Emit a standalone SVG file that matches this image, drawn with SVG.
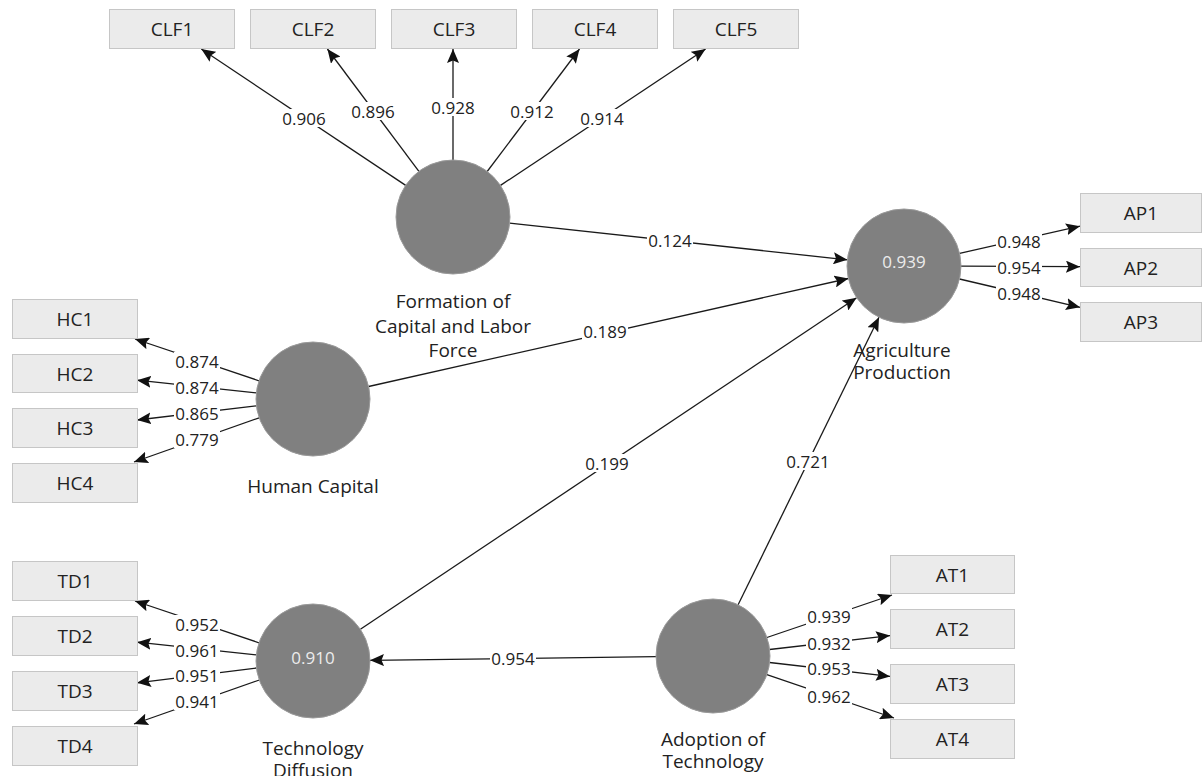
<svg xmlns="http://www.w3.org/2000/svg" width="1202" height="776" viewBox="0 0 1202 776">
<style>
.box{fill:#ebebeb;stroke:#c6c6c6;stroke-width:1}
.lv{fill:#808080;stroke:#9a9a9a;stroke-width:1}
.bt{font-family:"Open Sans","Noto Sans",sans-serif;font-size:19px;fill:#222;text-anchor:middle;dominant-baseline:central}
.lt{font-family:"Open Sans","Noto Sans",sans-serif;font-size:19px;fill:#222;text-anchor:middle}
.vt{font-family:"Open Sans","Noto Sans",sans-serif;font-size:17px;fill:#ececec;text-anchor:middle;dominant-baseline:central}
.e{stroke:#1a1a1a;stroke-width:1.3;fill:none;marker-end:url(#ah)}
.nl{font-family:"Open Sans","Noto Sans",sans-serif;font-size:17px;fill:#222;text-anchor:middle;dominant-baseline:central}
.bg{fill:#fff}
</style>
<defs>
<marker id="ah" viewBox="0 0 14 12" refX="14" refY="6" markerWidth="14" markerHeight="12" markerUnits="userSpaceOnUse" orient="auto">
<path d="M0,0 L14,6 L0,12 L2.5,6 z" fill="#111"/>
</marker>
</defs>
<rect width="1202" height="776" fill="#fff"/>

<g id="connectors">
<line class="e" x1="405.7" y1="185.4" x2="201.3" y2="49"/>
<line class="e" x1="418.9" y1="171.3" x2="327.4" y2="49"/>
<line class="e" x1="453" y1="160" x2="453" y2="49"/>
<line class="e" x1="487.2" y1="171.5" x2="579.5" y2="49"/>
<line class="e" x1="500.5" y1="185.4" x2="705.6" y2="49"/>
<line class="e" x1="259" y1="380.8" x2="135" y2="339"/>
<line class="e" x1="256.3" y1="392.9" x2="137" y2="380.2"/>
<line class="e" x1="256.4" y1="405.8" x2="137" y2="420"/>
<line class="e" x1="259.2" y1="417.8" x2="134" y2="462"/>
<line class="e" x1="259" y1="642.8" x2="135" y2="601"/>
<line class="e" x1="256.3" y1="654.9" x2="137" y2="642.2"/>
<line class="e" x1="256.4" y1="668" x2="137" y2="682.8"/>
<line class="e" x1="259.3" y1="680" x2="134" y2="724"/>
<line class="e" x1="766.9" y1="637.5" x2="892" y2="595"/>
<line class="e" x1="769.6" y1="649.5" x2="890" y2="635.6"/>
<line class="e" x1="769.6" y1="662.5" x2="890" y2="676.4"/>
<line class="e" x1="766.9" y1="674.6" x2="894" y2="718"/>
<line class="e" x1="959.6" y1="253.4" x2="1080" y2="226.2"/>
<line class="e" x1="961" y1="266.2" x2="1080" y2="266.7"/>
<line class="e" x1="959.5" y1="279" x2="1080" y2="307.3"/>
<line class="e" x1="509.6" y1="223.2" x2="847.4" y2="259.8"/>
<line class="e" x1="368.6" y1="386.5" x2="848.4" y2="278.5"/>
<line class="e" x1="360.4" y1="629.3" x2="856.6" y2="297.7"/>
<line class="e" x1="738.1" y1="604.8" x2="879" y2="317.2"/>
<line class="e" x1="656" y1="656.7" x2="370" y2="660.3"/>
</g>

<g id="edge-labels">
<rect class="bg" x="281" y="109" width="46" height="18"/><text class="nl" x="304" y="118">0.906</text>
<rect class="bg" x="350" y="102" width="46" height="18"/><text class="nl" x="373" y="111">0.896</text>
<rect class="bg" x="430" y="98" width="46" height="18"/><text class="nl" x="453" y="107">0.928</text>
<rect class="bg" x="509" y="102" width="46" height="18"/><text class="nl" x="532" y="111">0.912</text>
<rect class="bg" x="579" y="109" width="46" height="18"/><text class="nl" x="602" y="118">0.914</text>
<rect class="bg" x="174" y="352" width="46" height="18"/><text class="nl" x="197" y="361">0.874</text>
<rect class="bg" x="174" y="378" width="46" height="18"/><text class="nl" x="197" y="387">0.874</text>
<rect class="bg" x="174" y="404" width="46" height="18"/><text class="nl" x="197" y="413">0.865</text>
<rect class="bg" x="174" y="430" width="46" height="18"/><text class="nl" x="197" y="439">0.779</text>
<rect class="bg" x="174" y="615" width="46" height="18"/><text class="nl" x="197" y="624">0.952</text>
<rect class="bg" x="174" y="641" width="46" height="18"/><text class="nl" x="197" y="650">0.961</text>
<rect class="bg" x="174" y="666" width="46" height="18"/><text class="nl" x="197" y="675">0.951</text>
<rect class="bg" x="174" y="692" width="46" height="18"/><text class="nl" x="197" y="701">0.941</text>
<rect class="bg" x="806" y="607" width="46" height="18"/><text class="nl" x="829" y="616">0.939</text>
<rect class="bg" x="806" y="634" width="46" height="18"/><text class="nl" x="829" y="643">0.932</text>
<rect class="bg" x="806" y="659.5" width="46" height="18"/><text class="nl" x="829" y="668.5">0.953</text>
<rect class="bg" x="806" y="687" width="46" height="18"/><text class="nl" x="829" y="696">0.962</text>
<rect class="bg" x="996" y="232" width="46" height="18"/><text class="nl" x="1019" y="241">0.948</text>
<rect class="bg" x="996" y="258" width="46" height="18"/><text class="nl" x="1019" y="267">0.954</text>
<rect class="bg" x="996" y="284" width="46" height="18"/><text class="nl" x="1019" y="293">0.948</text>
<rect class="bg" x="647" y="231" width="46" height="18"/><text class="nl" x="670" y="240">0.124</text>
<rect class="bg" x="582" y="322" width="46" height="18"/><text class="nl" x="605" y="331">0.189</text>
<rect class="bg" x="584" y="454" width="46" height="18"/><text class="nl" x="607" y="463">0.199</text>
<rect class="bg" x="785" y="452" width="46" height="18"/><text class="nl" x="808" y="461">0.721</text>
<rect class="bg" x="490" y="649" width="46" height="18"/><text class="nl" x="513" y="658">0.954</text>
</g>

<g id="CLF1"><rect class="box" x="109.5" y="9.5" width="125" height="39"/><text class="bt" x="172" y="29">CLF1</text></g>
<g id="CLF2"><rect class="box" x="250.5" y="9.5" width="125" height="39"/><text class="bt" x="313" y="29">CLF2</text></g>
<g id="CLF3"><rect class="box" x="391.5" y="9.5" width="125" height="39"/><text class="bt" x="454" y="29">CLF3</text></g>
<g id="CLF4"><rect class="box" x="532.5" y="9.5" width="125" height="39"/><text class="bt" x="595" y="29">CLF4</text></g>
<g id="CLF5"><rect class="box" x="673.5" y="9.5" width="125" height="39"/><text class="bt" x="736" y="29">CLF5</text></g>

<g id="HC1"><rect class="box" x="12.5" y="299.5" width="125" height="39"/><text class="bt" x="75" y="319">HC1</text></g>
<g id="HC2"><rect class="box" x="12.5" y="354.5" width="125" height="38"/><text class="bt" x="75" y="373.5">HC2</text></g>
<g id="HC3"><rect class="box" x="12.5" y="408.5" width="125" height="39"/><text class="bt" x="75" y="428">HC3</text></g>
<g id="HC4"><rect class="box" x="12.5" y="463.5" width="125" height="39"/><text class="bt" x="75" y="483">HC4</text></g>

<g id="TD1"><rect class="box" x="12.5" y="561.5" width="125" height="39"/><text class="bt" x="75" y="581">TD1</text></g>
<g id="TD2"><rect class="box" x="12.5" y="616.5" width="125" height="39"/><text class="bt" x="75" y="636">TD2</text></g>
<g id="TD3"><rect class="box" x="12.5" y="671.5" width="125" height="39"/><text class="bt" x="75" y="691">TD3</text></g>
<g id="TD4"><rect class="box" x="12.5" y="726.5" width="125" height="39"/><text class="bt" x="75" y="746">TD4</text></g>

<g id="AT1"><rect class="box" x="890.5" y="555.5" width="124" height="38"/><text class="bt" x="952.5" y="574.5">AT1</text></g>
<g id="AT2"><rect class="box" x="890.5" y="609.5" width="124" height="39"/><text class="bt" x="952.5" y="629">AT2</text></g>
<g id="AT3"><rect class="box" x="890.5" y="664.5" width="124" height="39"/><text class="bt" x="952.5" y="684">AT3</text></g>
<g id="AT4"><rect class="box" x="890.5" y="719.5" width="124" height="39"/><text class="bt" x="952.5" y="739">AT4</text></g>

<g id="AP1"><rect class="box" x="1080.5" y="193.5" width="121" height="39"/><text class="bt" x="1141" y="213">AP1</text></g>
<g id="AP2"><rect class="box" x="1080.5" y="248.5" width="121" height="38"/><text class="bt" x="1141" y="267.5">AP2</text></g>
<g id="AP3"><rect class="box" x="1080.5" y="302.5" width="121" height="39"/><text class="bt" x="1141" y="322">AP3</text></g>

<g id="FormationCapitalLabor">
<circle class="lv" cx="453" cy="217" r="57"/>
<text class="lt" x="453" y="308">Formation of</text>
<text class="lt" x="453" y="333">Capital and Labor</text>
<text class="lt" x="453" y="357">Force</text>
</g>
<g id="HumanCapital">
<circle class="lv" cx="313" cy="399" r="57"/>
<text class="lt" x="313" y="493">Human Capital</text>
</g>
<g id="TechnologyDiffusion">
<circle class="lv" cx="313" cy="661" r="57"/>
<text class="vt" x="313" y="657">0.910</text>
<text class="lt" x="313" y="755">Technology</text>
<text class="lt" x="313" y="777">Diffusion</text>
</g>
<g id="AdoptionTechnology">
<circle class="lv" cx="713" cy="656" r="57"/>
<text class="lt" x="713" y="746">Adoption of</text>
<text class="lt" x="713" y="768">Technology</text>
</g>
<g id="AgricultureProduction">
<circle class="lv" cx="904" cy="266" r="57"/>
<text class="vt" x="904" y="261">0.939</text>
<text class="lt" x="902" y="357">Agriculture</text>
<text class="lt" x="902" y="379">Production</text>
</g>
</svg>
